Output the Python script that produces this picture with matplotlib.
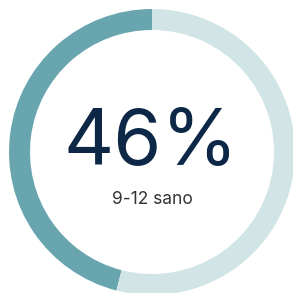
import matplotlib
matplotlib.use("Agg")
import matplotlib.pyplot as plt

# Share shown in the ring
values = [46, 54]
colors = ['#68a5ae', '#d1e4e6']
big_label = '46%'
sub_label = '9-12 sano'

fig = plt.figure(figsize=(2.93, 2.93), dpi=100)
ax = fig.add_axes([0, 0, 1, 1])
ax.set_aspect('equal')
ax.axis('off')

ax.pie(values, colors=colors, startangle=90, counterclock=True,
       center=(152, 141), radius=143,
       wedgeprops=dict(width=21, linewidth=0))
ax.set_xlim(0, 293)
ax.set_ylim(0, 293)

ax.text(150.5, 149, big_label, ha='center', va='center', fontsize=56,
        family='Inter', color='#0d2747')
ax.text(152, 93, sub_label, ha='center', va='center', fontsize=12.5,
        family='Inter', color='#333333')

fig.savefig('out.png', dpi=100)
